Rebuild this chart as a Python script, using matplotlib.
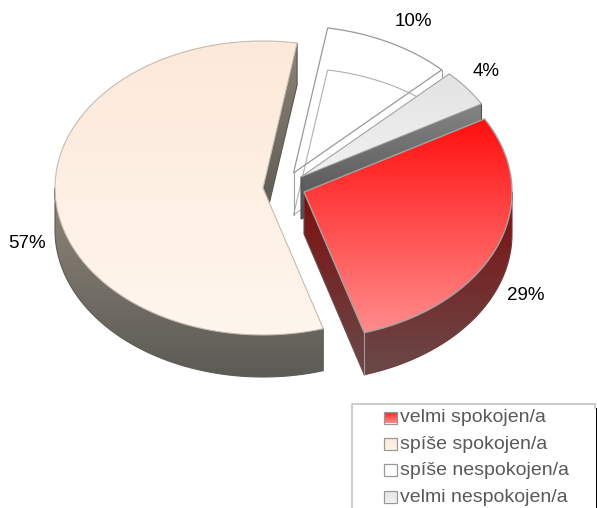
import numpy as np
import matplotlib
matplotlib.use('Agg')
import matplotlib.pyplot as plt
from matplotlib.colors import LinearSegmentedColormap
from matplotlib.patches import Polygon, Rectangle

plt.rcParams['font.family'] = ['Liberation Sans', 'DejaVu Sans']

categories = ['velmi spokojen/a', 'spíše spokojen/a', 'spíše nespokojen/a', 'velmi nespokojen/a']
values = [28.6, 57.3, 10.0, 4.1]
value_labels = ['29%', '57%', '10%', '4%']

# exploded slice centres in pixels, same order as values
centres = [(304, 192), (263, 188), (293.5, 173), (301, 177)]
label_pos = [(526, 295), (27, 244), (413, 22), (486, 72)]
RX, RY, DEPTH = 208, 147, 42
START = 29.8
EDGE = '#a3a3a3'

fig = plt.figure(figsize=(5.97, 5.08), dpi=100)
ax = fig.add_axes([0, 0, 1, 1])
ax.axis('off')


def arc(c, a0, a1, dy=0):
    t = np.radians(np.linspace(a0, a1, 120))
    return np.c_[c[0] + RX * np.cos(t), c[1] - RY * np.sin(t) + dy]


def grad_poly(pts, top, bottom, y0=None, y1=None, edge=None, lw=0.8, z=1):
    pts = np.asarray(pts)
    y0 = pts[:, 1].min() if y0 is None else y0
    y1 = pts[:, 1].max() if y1 is None else y1
    cmap = LinearSegmentedColormap.from_list('g', [top, bottom])
    x0, x1 = pts[:, 0].min() - 2, pts[:, 0].max() + 2
    im = ax.imshow(np.linspace(0, 1, 256).reshape(-1, 1), cmap=cmap, aspect='auto',
                   extent=(x0, x1, y1, y0), zorder=z, interpolation='bilinear')
    clip = Polygon(pts, closed=True, transform=ax.transData, fc='none', ec='none')
    ax.add_patch(clip)
    im.set_clip_path(clip)
    # thin outline so the clipped gradient does not look jagged
    ax.add_patch(Polygon(pts, closed=True, fc='none', ec=edge if edge else bottom, lw=lw, zorder=z + 0.01))


# slice angles from the values, clockwise
spans = np.array(values) / sum(values) * 360
ends = START - np.cumsum(spans)
starts = ends + spans

# white slice, only outlined so its floor shows through
c = centres[2]
a0, a1 = starts[2], ends[2]
top = np.vstack([[c], arc(c, a0, a1)])
ax.add_patch(Polygon(top + [0, DEPTH], closed=True, fc='none', ec='#b0b0b0', lw=0.8, zorder=2))
ax.add_patch(Polygon(top, closed=True, fc='none', ec='#999999', lw=0.9, zorder=2.1))
ax.plot([c[0], c[0]], [c[1], c[1] + DEPTH], color='#a0a0a0', lw=0.8, zorder=2.1)
pe = arc(c, a1, a1)[0]
ax.plot([pe[0], pe[0]], [pe[1], pe[1] + DEPTH], color='#a0a0a0', lw=0.8, zorder=2.1)

# light grey slice
c = centres[3]
a0, a1 = starts[3], ends[3]
pe = arc(c, a1, a1)[0]
grad_poly([c, pe, pe + [0, DEPTH], (c[0], c[1] + DEPTH)], '#858585', '#4f4f4f', z=3)
grad_poly(np.vstack([[c], arc(c, a0, a1)]), '#e3e3e3', '#f1f1f1', edge=EDGE, z=4)

# beige slice
c = centres[1]
a0, a1 = starts[1], ends[1]
pb = arc(c, a1, a1)[0]
grad_poly([pb, pb + [0, DEPTH], (c[0], c[1] + DEPTH), c], '#8f8377', '#58574f', z=5)
w = arc(c, -180, a0)
grad_poly(np.vstack([w, w[::-1] + [0, DEPTH]]), '#8f8579', '#5c5b55', z=5)
grad_poly(np.vstack([[c], arc(c, a0, a1)]), '#fde9d9', '#fff6ee', edge='#c4bbb2', z=6)

# red slice
c = centres[0]
a0, a1 = starts[0], ends[0]
pe = arc(c, a1, a1)[0]
grad_poly([c, pe, pe + [0, DEPTH], (c[0], c[1] + DEPTH)], '#7d0f0f', '#6a4a4a', y0=192, y1=376, z=7)
w = arc(c, 0, a1)
grad_poly(np.vstack([w, w[::-1] + [0, DEPTH]]), '#7d0f0f', '#6a4a4a', y0=192, y1=376, edge='#6f3a3a', z=7)
ax.plot([pe[0], pe[0]], [pe[1], pe[1] + DEPTH], color='#9aa0a0', lw=0.8, zorder=8)
grad_poly(np.vstack([[c], arc(c, a0, a1)]), '#ff0f0f', '#ff8c8c', edge=EDGE, lw=1.0, z=9)

for txt, (x, y) in zip(value_labels, label_pos):
    ax.text(x, y, txt, ha='center', va='center', fontsize=13.5, color='black', zorder=12)

# legend box, open at the bottom like the reference
ax.plot([352, 352, 595], [508, 404, 404], color='#c4c4c4', lw=1.2, zorder=10)
ax.plot([595, 595], [404, 408], color='#c4c4c4', lw=1.2, zorder=10)
ax.add_patch(Rectangle((595.5, 408), 2.5, 100, fc='black', ec='none', zorder=10))

legend_y = [417.5, 444, 470, 496.5]
legend_fill = [('#ff1515', '#ff8c8c'), ('#fde9d9', '#fff3e8'), ('#ffffff', '#ffffff'), ('#e4e4e4', '#f0f0f0')]
for name, y, (c0, c1) in zip(categories, legend_y, legend_fill):
    grad_poly([(384, y - 6), (396.5, y - 6), (396.5, y + 6), (384, y + 6)], c0, c1, edge='#999999', lw=0.9, z=10)
    ax.text(400, y + 0.5, name, ha='left', va='center', fontsize=14, color='#595959', zorder=11)

ax.set_xlim(0, 597)
ax.set_ylim(508, 0)
fig.savefig('out.png', dpi=100)
